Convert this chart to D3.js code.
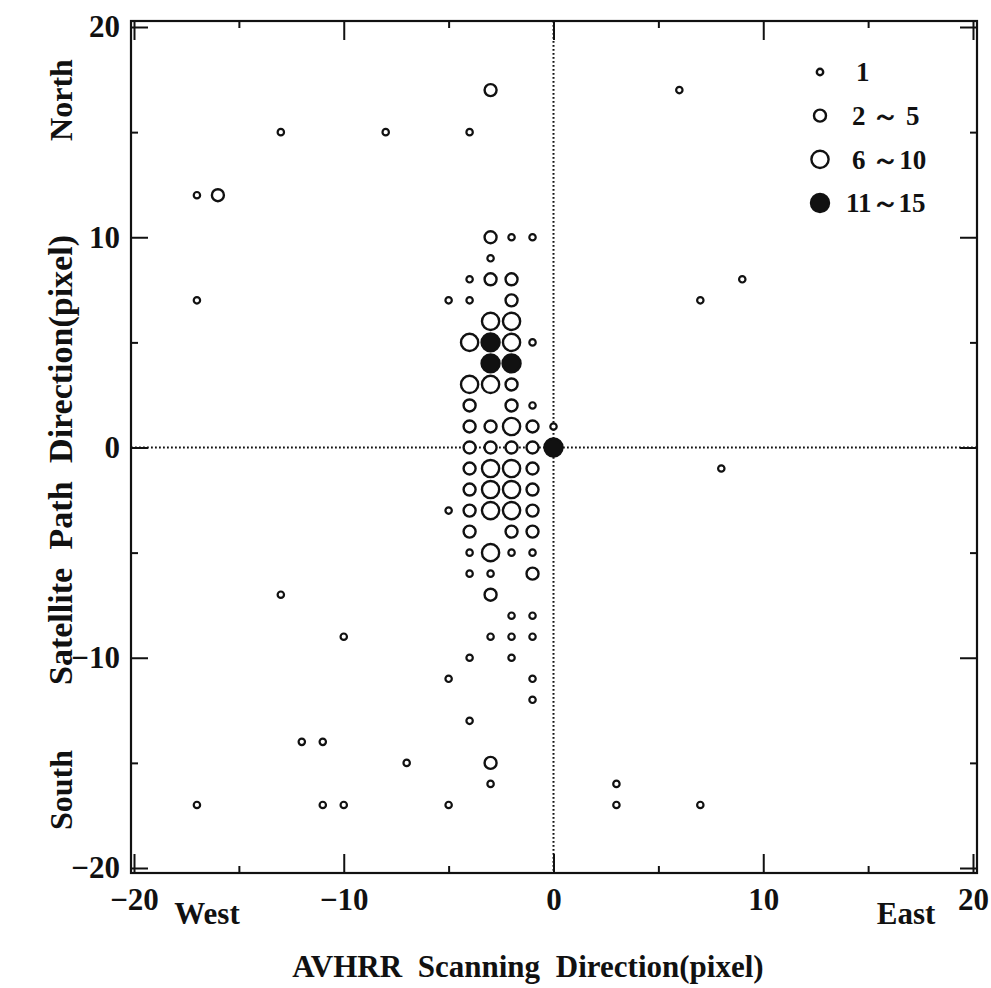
<!DOCTYPE html>
<html>
<head>
<meta charset="utf-8">
<script src="https://cdn.jsdelivr.net/npm/d3@7"></script>
<style>
  body { margin: 0; background: #fff; }
  text { font-family: "Liberation Serif", "Times New Roman", serif; font-weight: bold; fill: #111; }
</style>
</head>
<body>
<div id="chart"></div>
<script>
// size classes: 1 = "1", 2 = "2~5", 3 = "6~10", 4 = "11~15"
const classLabels = ["1", "2 ～ 5", "6 ～10", "11～15"];

const ptX = [
  -13, -8, -4, 6, -17, -17, -5, -4, 7, 9, -4, -3, -2, -1, -1, -1, 0, 8, -5, -4, -2, -1, -4, -3,
  -13, -2, -1, -10, -3, -2, -1, -4, -2, -5, -1, -1, -4, -12, -11, -7, -3, -17, -11, -10, -5, 3, 3, 7,
  -3, -16, -3, -3, -2, -2, -2, -4, -2, -4, -3, -1, -4, -3, -2, -1, -4, -1, -4, -1, -4, -1, -4, -2, -1, -1, -3, -3,
  -3, -2, -4, -2, -4, -3, -2, -3, -2, -3, -2, -3, -2, -3,
  -3, -3, -2, 0
];
const ptY = [
  15, 15, 15, 17, 12, 7, 7, 7, 7, 8, 8, 9, 10, 10, 5, 2, 1, -1, -3, -5, -5, -5, -6, -6,
  -7, -8, -8, -9, -9, -9, -9, -10, -10, -11, -11, -12, -13, -14, -14, -15, -16, -17, -17, -17, -17, -16, -17, -17,
  17, 12, 10, 8, 8, 7, 3, 2, 2, 1, 1, 1, 0, 0, 0, 0, -1, -1, -2, -2, -3, -3, -4, -4, -4, -6, -7, -15,
  6, 6, 5, 5, 3, 3, 1, -1, -1, -2, -2, -3, -3, -5,
  5, 4, 4, 0
];
const ptClass = [
  1, 1, 1, 1, 1, 1, 1, 1, 1, 1, 1, 1, 1, 1, 1, 1, 1, 1, 1, 1, 1, 1, 1, 1,
  1, 1, 1, 1, 1, 1, 1, 1, 1, 1, 1, 1, 1, 1, 1, 1, 1, 1, 1, 1, 1, 1, 1, 1,
  2, 2, 2, 2, 2, 2, 2, 2, 2, 2, 2, 2, 2, 2, 2, 2, 2, 2, 2, 2, 2, 2, 2, 2, 2, 2, 2, 2,
  3, 3, 3, 3, 3, 3, 3, 3, 3, 3, 3, 3, 3, 3,
  4, 4, 4, 4
];

const majorTicks = [-20, -10, 0, 10, 20];
const minorTicks = [-15, -5, 5, 15];

const width = 991, height = 988;
const frame = { left: 131, right: 977, top: 21, bottom: 873 };

const svg = d3.select("#chart").append("svg")
  .attr("width", width)
  .attr("height", height);

const x = d3.scaleLinear().domain([-20, 20]).range([134, 973]);
const y = d3.scaleLinear().domain([20, -20]).range([27, 868]);

const radius = { 1: 3.2, 2: 6, 3: 8.6, 4: 9 };

// frame
svg.append("rect")
  .attr("x", frame.left).attr("y", frame.top)
  .attr("width", frame.right - frame.left)
  .attr("height", frame.bottom - frame.top)
  .attr("fill", "none")
  .attr("stroke", "#111")
  .attr("stroke-width", 2.2);

// dotted zero lines
svg.append("line")
  .attr("x1", x(0)).attr("x2", x(0))
  .attr("y1", frame.top).attr("y2", frame.bottom)
  .attr("stroke", "#111").attr("stroke-width", 2)
  .attr("stroke-dasharray", "1.8,2.2");
svg.append("line")
  .attr("x1", frame.left).attr("x2", frame.right)
  .attr("y1", y(0)).attr("y2", y(0))
  .attr("stroke", "#111").attr("stroke-width", 2)
  .attr("stroke-dasharray", "1.8,2.2");

function styleAxis(g, fontSize) {
  g.select(".domain").remove();
  g.selectAll(".tick line").attr("stroke", "#111").attr("stroke-width", 2);
  g.selectAll(".tick text").style("font-size", fontSize + "px").attr("fill", "#111");
}

// major ticks (labelled bottom/left)
svg.append("g")
  .attr("transform", `translate(0,${frame.bottom})`)
  .call(d3.axisBottom(x).tickValues(majorTicks).tickSizeInner(-19).tickSizeOuter(0).tickPadding(15))
  .call(g => styleAxis(g, 31));
svg.append("g")
  .attr("transform", `translate(${frame.left},0)`)
  .call(d3.axisLeft(y).tickValues(majorTicks).tickSizeInner(-17).tickSizeOuter(0).tickPadding(11))
  .call(g => styleAxis(g, 31));
svg.append("g")
  .attr("transform", `translate(0,${frame.top})`)
  .call(d3.axisTop(x).tickValues(majorTicks).tickSizeInner(-19).tickSizeOuter(0).tickFormat(""))
  .call(g => styleAxis(g, 0));
svg.append("g")
  .attr("transform", `translate(${frame.right},0)`)
  .call(d3.axisRight(y).tickValues(majorTicks).tickSizeInner(-17).tickSizeOuter(0).tickFormat(""))
  .call(g => styleAxis(g, 0));

// minor ticks
[[d3.axisBottom(x), frame.bottom, true], [d3.axisTop(x), frame.top, true],
 [d3.axisLeft(y), frame.left, false], [d3.axisRight(y), frame.right, false]].forEach(([ax, pos, horiz]) => {
  svg.append("g")
    .attr("transform", horiz ? `translate(0,${pos})` : `translate(${pos},0)`)
    .call(ax.tickValues(minorTicks).tickSizeInner(-7).tickSizeOuter(0).tickFormat(""))
    .call(g => styleAxis(g, 0));
});

// points
const points = ptX.map((v, i) => ({ x: v, y: ptY[i], c: ptClass[i] }));

svg.append("g").selectAll("circle")
  .data(points)
  .enter()
  .append("circle")
  .attr("cx", d => x(d.x))
  .attr("cy", d => y(d.y))
  .attr("r", d => radius[d.c])
  .attr("fill", d => d.c === 4 ? "#111" : "#fff")
  .attr("stroke", "#111")
  .attr("stroke-width", d => d.c === 1 ? 2.2 : 2.4);

// legend
const legend = svg.append("g");
const legendY = d3.scalePoint().domain([1, 2, 3, 4]).range([72, 203]);
[1, 2, 3, 4].forEach((c, i) => {
  legend.append("circle")
    .attr("cx", 820).attr("cy", legendY(c))
    .attr("r", radius[c])
    .attr("fill", c === 4 ? "#111" : "#fff")
    .attr("stroke", "#111")
    .attr("stroke-width", 2.4);
  legend.append("text")
    .attr("x", c === 1 ? 856 : (c === 4 ? 846 : 852))
    .attr("y", legendY(c))
    .attr("dy", "0.35em")
    .style("font-size", "27px")
    .text(classLabels[i]);
});

// axis titles
svg.append("text")
  .attr("x", 528).attr("y", 977)
  .attr("text-anchor", "middle")
  .style("font-size", "31px")
  .style("word-spacing", "8px")
  .text("AVHRR Scanning Direction(pixel)");

svg.append("text")
  .attr("transform", "translate(72,460) rotate(-90)")
  .attr("text-anchor", "middle")
  .style("font-size", "34px")
  .style("word-spacing", "10px")
  .text("Satellite Path Direction(pixel)");

svg.append("text")
  .attr("transform", "translate(72,100) rotate(-90)")
  .attr("text-anchor", "middle")
  .style("font-size", "32px")
  .text("North");

svg.append("text")
  .attr("transform", "translate(72,790) rotate(-90)")
  .attr("text-anchor", "middle")
  .style("font-size", "32px")
  .text("South");

svg.append("text")
  .attr("x", 207).attr("y", 924)
  .attr("text-anchor", "middle")
  .style("font-size", "31px")
  .text("West");

svg.append("text")
  .attr("x", 906).attr("y", 924)
  .attr("text-anchor", "middle")
  .style("font-size", "31px")
  .text("East");
</script>
</body>
</html>
